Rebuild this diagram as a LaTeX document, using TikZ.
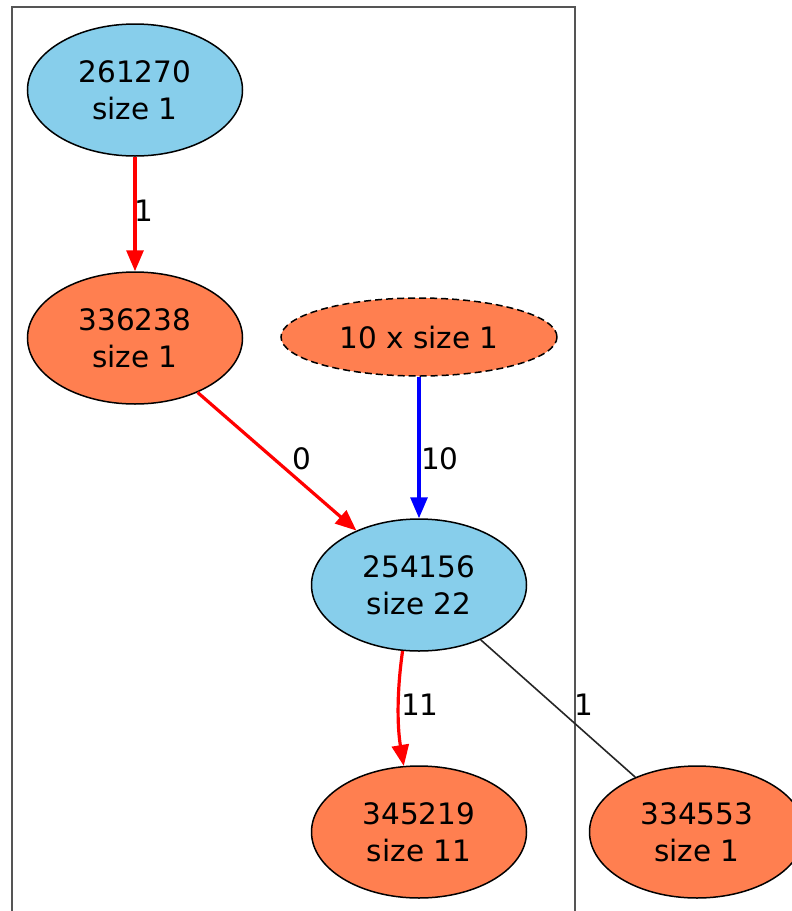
\documentclass[tikz,border=0pt]{standalone}
\usepackage{fontspec}
\setmainfont{DejaVu Sans}
\usetikzlibrary{shapes.geometric,arrows.meta}
\definecolor{nodeblue}{HTML}{87CEEB}
\definecolor{nodecoral}{HTML}{FF7F50}
\definecolor{framegray}{HTML}{555555}
\tikzset{
  blob/.style={ellipse, draw=black, line width=1.5pt, inner sep=0pt,
    minimum width=215pt, minimum height=132pt, align=center,
    font=\fontsize{29.5}{37}\selectfont},
  blueblob/.style={blob, fill=nodeblue},
  coralblob/.style={blob, fill=nodecoral},
  redarrow/.style={draw=red, line width=3.2pt, -{Triangle[length=21pt,width=17pt]}},
  bluearrow/.style={draw=blue, line width=3.2pt, -{Triangle[length=21pt,width=17pt]}},
  plainline/.style={draw=black!85, line width=1.6pt},
  elabel/.style={inner sep=0pt, font=\fontsize{29.5}{37}\selectfont},
}
\begin{document}
\begin{tikzpicture}[x=1pt,y=-1pt]
\useasboundingbox (0,0) rectangle (792,911);
\clip (0,0) rectangle (792,911);
\fill[white] (0,0) rectangle (792,911);
\draw[framegray, line width=2.5pt] (12,940) -- (12,7) -- (575,7) -- (575,940);
\node[blueblob] (n261270) at (135,90) {261270\\size 1};
\node[coralblob] (n336238) at (135,338) {336238\\size 1};
\node[coralblob, dashed, dash pattern=on 7pt off 4pt, minimum width=276pt, minimum height=78pt] (ten) at (419,337) {10 x size 1};
\node[blueblob] (n254156) at (419,585) {254156\\size 22};
\node[coralblob] (n345219) at (419,832) {345219\\size 11};
\node[coralblob] (n334553) at (697,832) {334553\\size 1};
\draw[redarrow] (n261270) -- (n336238);
\draw[redarrow] (n336238) -- (n254156);
\draw[bluearrow] (ten) -- (n254156);
\draw[redarrow] (n254156.256) .. controls (397,690) and (397,725) .. (n345219.103);
\draw[plainline] (n254156) -- (n334553);
\node[elabel] (l1) at (144,211) {1};
\node[elabel] (l0) at (302,459) {0};
\node[elabel] (l10) at (440,459) {10};
\node[elabel] (l11) at (420,705) {11};
\node[elabel] (l1b) at (584,705) {1};
\end{tikzpicture}
\end{document}
